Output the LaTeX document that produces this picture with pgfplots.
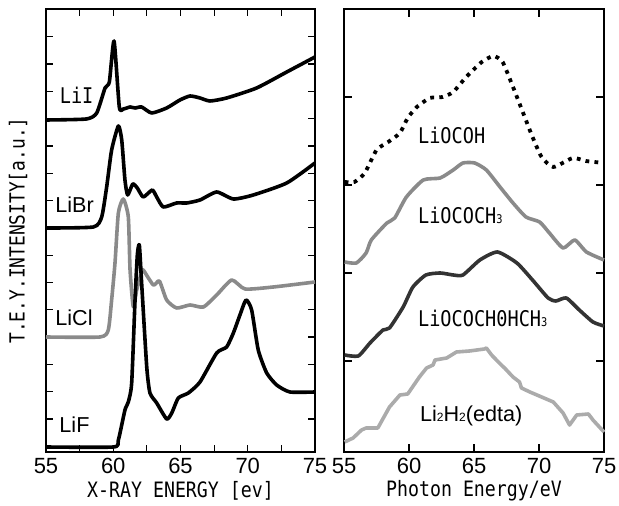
\documentclass[border=0pt]{standalone}
\usepackage{fontspec}
\setmainfont{Liberation Sans}
\newfontfamily\monof[FakeStretch=0.86]{DejaVu Sans Mono}
\usepackage{pgfplots}
\pgfplotsset{compat=1.18}
\definecolor{midgray}{HTML}{8A8A8A}
\definecolor{darkg}{HTML}{333333}
\definecolor{lightg}{HTML}{ABABAB}
\begin{document}
\begin{tikzpicture}
\useasboundingbox (0pt,0pt) rectangle (309.5pt,253pt);
\pgfplotsset{
  panel/.style={
    scale only axis, height=221.5pt,
    xmin=55, xmax=75, ymin=0, ymax=443,
    tick align=inside, xtick={55,60,...,75},
    yticklabels={},
    ticklabel style={font=\fontsize{11}{11}\selectfont},
    xticklabel style={anchor=center, yshift=-7pt},
    /pgf/number format/assume math mode=true,
    axis line style={line width=0.6pt},
    every tick/.style={black, line width=0.6pt},
    major tick length=3.5pt, minor tick length=3.5pt,
    xlabel style={at={(axis description cs:0.5,-0.088)}, anchor=center,
      font=\monof\fontsize{10.6}{10.6}\selectfont},
    clip=false,
  },
  curve/.style={line width=1.8pt, smooth, tension=0.35, line join=round},
}
% ---------------- left panel ----------------
\begin{axis}[panel, at={(23pt,27pt)}, anchor=south west, width=134.5pt,
  minor xtick={57.5,62.5,67.5,72.5},
  ytick={33,60.3,87.6,114.9,142.2,169.5,196.8,224.1,251.4,278.7,306,333.3,360.6,387.9,415.2},
  major tick length=3.5pt,
  xlabel={X-RAY ENERGY [ev]},
  ylabel={T.E.Y.INTENSITY[a.u.]},
  ylabel style={at={(axis description cs:-0.104,0.5)}, anchor=center,
    font=\monof\fontsize{10.4}{10.4}\selectfont},
]
% LiI
\addplot[curve, black] coordinates {
(55,332) (58.0,333) (58.77,339) (59.39,364) (59.71,370) (60.06,411)
(60.45,345) (60.75,343) (61.25,345) (61.62,344) (62.11,345) (62.86,339)
(63.97,344) (64.96,352) (65.71,356) (66.45,354) (67.19,351) (68.43,354)
(70.66,364) (72.9,380) (75,395)};
% LiBr
\addplot[curve, black] coordinates {
(55,224) (58.52,225) (59.14,235) (59.51,265) (59.88,302) (60.38,326)
(60.63,312) (60.87,272) (61.07,257) (61.45,268) (61.79,264) (62.23,255)
(62.90,262) (63.23,255) (63.72,245) (64.71,249) (65.46,249) (66.45,252)
(67.69,260) (68.93,253) (70.41,257) (72.9,269) (75,289)};
% LiCl
\addplot[curve, midgray] coordinates {
(55,115) (59.01,115) (59.63,122) (59.88,152) (60.13,189) (60.38,239)
(60.75,253) (61.12,235) (61.25,182) (61.49,145) (61.74,162) (62.11,180)
(62.23,182) (62.98,167) (63.43,171) (63.97,152) (64.71,144) (65.71,147)
(66.70,145) (67.69,157) (68.81,172) (69.80,163) (71.9,165) (75,170)};
% LiF
\addplot[curve, black] coordinates {
(55,5) (60.0,5) (60.38,12) (60.87,42) (61.12,50) (61.37,69) (61.62,152)
(61.79,197) (61.94,207) (62.11,169) (62.49,85) (62.73,59) (63.23,49)
(63.97,33) (64.35,39) (64.84,54) (65.58,59) (66.45,70) (67.69,99)
(68.43,105) (68.93,119) (69.42,137) (69.87,152) (70.29,142) (70.78,102)
(71.41,79) (72.15,67) (73.14,60) (75,60)};
\node[anchor=base west, font=\monof\fontsize{10.8}{10.8}\selectfont, inner sep=0pt] at (axis cs:56.0,348) {LiI};
\node[anchor=base west, font=\fontsize{10.8}{10.8}\selectfont, inner sep=0pt] at (axis cs:55.67,239) {LiBr};
\node[anchor=base west, font=\fontsize{10.8}{10.8}\selectfont, inner sep=0pt] at (axis cs:55.67,126) {LiCl};
\node[anchor=base west, font=\fontsize{10.8}{10.8}\selectfont, inner sep=0pt] at (axis cs:55.97,19) {LiF};
\end{axis}
% ---------------- right panel ----------------
\begin{axis}[panel, at={(172pt,27pt)}, anchor=south west, width=130pt,
  ytick={91,179,267,355},
  major tick length=4pt,
  xlabel={Photon Energy/eV},
]
% LiOCOH
\addplot[curve, black, line width=1.9pt, dash pattern=on 1.9pt off 2.6pt, line cap=butt] coordinates {
(55.05,270) (55.8,270) (56.6,279) (57.5,302) (58.4,310) (59.3,319)
(59.9,334) (60.6,345) (61.6,354) (62.6,355) (63.4,360) (64.4,375)
(65.6,390) (66.5,396) (67.2,390) (68.0,365) (68.9,335) (69.5,315)
(70.2,295) (71.1,285) (72.6,294) (73.6,291) (75,289)};
% LiOCOCH3
\addplot[curve, midgray] coordinates {
(55.05,190) (55.95,189) (56.7,199) (57.1,212) (58.3,229) (58.9,234)
(59.8,255) (61.1,272) (62.4,274) (63.4,282) (64.15,289) (65.05,289)
(65.95,282) (67.0,265) (68.0,249) (69.0,235) (70.05,230) (70.8,219)
(71.85,204) (72.75,212) (73.65,200) (75,192)};
% LiOCOCH(OH)CH3
\addplot[curve, darkg] coordinates {
(55.05,97) (56.1,96) (57.0,109) (58.0,122) (58.5,124) (59.55,145)
(60.3,165) (61.3,177) (62.4,179) (63.4,177) (64.15,177) (65.45,192)
(66.8,200) (68.3,189) (69.5,172) (70.7,154) (71.3,151) (72.1,154)
(73.1,142) (74.15,130) (75,126)};
% Li2H2(edta)
\addplot[line width=1.8pt, lightg, line join=round] coordinates {
(55.05,10) (55.7,14) (56.35,22) (56.7,24) (57.6,24) (58.5,45) (59.3,57)
(59.9,58) (60.8,75) (61.35,84) (61.85,87) (62.0,92) (62.9,94) (63.65,100)
(64.65,101) (65.8,103) (65.95,104) (66.35,97) (67.1,87) (67.35,84)
(68.0,75) (68.5,70) (68.65,64) (69.3,60) (70.2,55) (71.1,50) (71.85,39)
(72.35,27) (72.9,37) (73.8,38) (74.15,32) (75,20)};
\node[anchor=base west, font=\monof\fontsize{10.8}{10.8}\selectfont, inner sep=0pt] at (axis cs:60.67,308) {LiOCOH};
\node[anchor=base west, font=\monof\fontsize{10.8}{10.8}\selectfont, inner sep=0pt] at (axis cs:60.67,228) {LiOCOCH{\fontsize{6}{6}\selectfont 3}};
\node[anchor=base west, font=\monof\fontsize{10.8}{10.8}\selectfont, inner sep=0pt] at (axis cs:60.67,125) {LiOCOCH0HCH{\fontsize{6}{6}\selectfont 3}};
\node[anchor=base west, font=\fontsize{10.8}{10.8}\selectfont, inner sep=0pt] at (axis cs:60.82,30) {Li{\fontsize{6}{6}\selectfont 2}H{\fontsize{6}{6}\selectfont 2}(edta)};
\end{axis}
\end{tikzpicture}
\end{document}
